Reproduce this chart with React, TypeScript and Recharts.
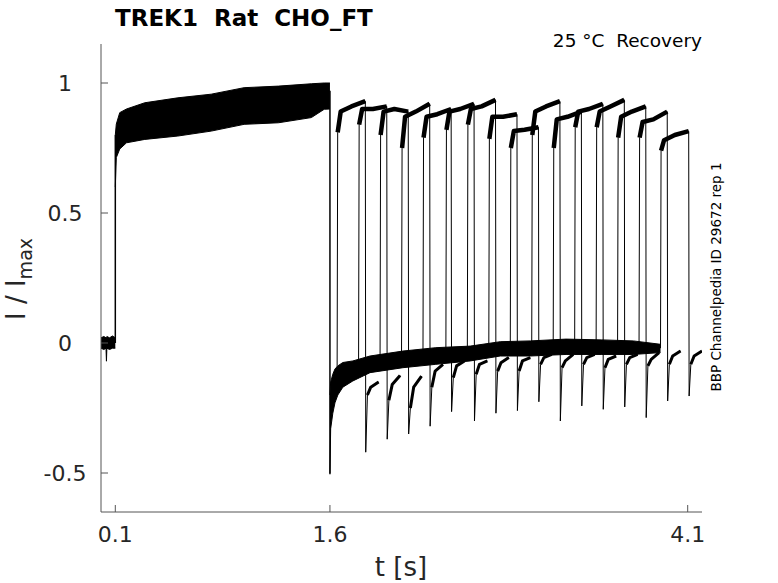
import { ComposedChart, Line, Area, XAxis, YAxis } from "recharts";

// recovery protocol: 16 sweeps, second pulse at increasing intervals
const pulseStart = [1.65, 1.8, 1.95, 2.1, 2.25, 2.41, 2.56, 2.71, 2.86, 3.01, 3.16, 3.31, 3.46, 3.61, 3.76, 3.91];
const pulseEnd = [1.85, 2.0, 2.15, 2.3, 2.45, 2.61, 2.76, 2.91, 3.06, 3.21, 3.36, 3.51, 3.66, 3.81, 3.96, 4.11];
const baseBefore = [-0.14, -0.1, -0.09, -0.08, -0.07, -0.06, -0.05, -0.05, -0.04, -0.03, -0.03, -0.03, -0.02, -0.02, -0.02, -0.02];
const kneeLevel = [0.81, 0.84, 0.8, 0.75, 0.79, 0.82, 0.84, 0.785, 0.75, 0.8, 0.75, 0.83, 0.83, 0.79, 0.79, 0.74];
const earlyLevel = [0.89, 0.9, 0.89, 0.87, 0.87, 0.89, 0.9, 0.87, 0.815, 0.89, 0.86, 0.89, 0.89, 0.87, 0.85, 0.78];
const midLevel = [0.91, 0.9, 0.9, 0.89, 0.88, 0.9, 0.91, 0.87, 0.82, 0.91, 0.87, 0.9, 0.91, 0.89, 0.86, 0.8];
const endLevel = [0.93, 0.91, 0.89, 0.92, 0.9, 0.92, 0.935, 0.88, 0.83, 0.93, 0.89, 0.92, 0.935, 0.91, 0.89, 0.815];
const spikeLevel = [-0.42, -0.37, -0.35, -0.32, -0.264, -0.3, -0.27, -0.26, -0.226, -0.3, -0.242, -0.255, -0.246, -0.287, -0.223, -0.204];
const tailA = [-0.2, -0.22, -0.25, -0.17, -0.133, -0.12, -0.108, -0.108, -0.082, -0.095, -0.082, -0.095, -0.082, -0.088, -0.082, -0.082];
const tailB = [-0.17, -0.16, -0.17, -0.108, -0.088, -0.082, -0.076, -0.069, -0.056, -0.069, -0.056, -0.063, -0.056, -0.063, -0.05, -0.05];
const tailC = [-0.15, -0.125, -0.127, -0.082, -0.069, -0.069, -0.056, -0.056, -0.044, -0.044, -0.044, -0.05, -0.044, -0.037, -0.031, -0.031];
const tailEnd = [1.94, 2.09, 2.24, 2.39, 2.54, 2.7, 2.85, 3.0, 3.15, 3.3, 3.45, 3.6, 3.75, 3.9, 4.05, 4.2];

// envelope of the overlapping sweeps before the second pulse
const baseT = [0, 0.02, 0.035, 0.038, 0.041, 0.06, 0.08, 0.1];
const baseLow = [-0.02, -0.025, -0.02, -0.07, -0.02, -0.025, -0.02, -0.02];
const baseHigh = [0.02, 0.025, 0.02, 0.02, 0.025, 0.02, 0.027, 0.02];

const firstT = [0.1, 0.107, 0.131, 0.178, 0.306, 0.537, 0.77, 1.0, 1.24, 1.47, 1.56, 1.6];
const firstLow = [0.6, 0.713, 0.746, 0.77, 0.783, 0.796, 0.815, 0.841, 0.847, 0.867, 0.899, 0.9];
const firstHigh = [0.8, 0.842, 0.886, 0.9, 0.924, 0.943, 0.957, 0.982, 0.988, 0.997, 1.0, 1.0];

const recT = [1.6, 1.605, 1.62, 1.635, 1.655, 1.69, 1.76, 1.88, 2.11, 2.34, 2.58, 2.79, 3.0, 3.25, 3.5, 3.72, 3.91];
const recLow = [-0.5, -0.33, -0.27, -0.23, -0.2, -0.17, -0.146, -0.114, -0.095, -0.082, -0.069, -0.05, -0.05, -0.044, -0.044, -0.044, -0.037];
const recHigh = [-0.2, -0.15, -0.12, -0.1, -0.088, -0.075, -0.069, -0.05, -0.031, -0.018, -0.012, 0.005, 0.008, 0.015, 0.012, 0.008, -0.005];

const stepT = [0.1, 1.6];
const stepFrom = [0, 0.97];
const stepTo = [0.8, -0.505];

const xTicks = [0.1, 1.6, 4.1];
const yTicks = [-0.5, 0, 0.5, 1];

const band = (ts: number[], lo: number[], hi: number[]) =>
  ts.map((t, i) => ({ t, range: [lo[i], hi[i]] }));

const baseData = band(baseT, baseLow, baseHigh);
const firstData = band(firstT, firstLow, firstHigh);
const recData = band(recT, recLow, recHigh);

const stepLines = stepT.map((t, i) => [
  { t, v: stepFrom[i] },
  { t, v: stepTo[i] },
]);

const sweeps = pulseStart.map((s, i) => {
  const e = pulseEnd[i];
  const plateau = [
    { t: s + 0.004, v: kneeLevel[i] },
    { t: s + 0.025, v: earlyLevel[i] },
    { t: s + 0.1, v: midLevel[i] },
    { t: e - 0.003, v: endLevel[i] },
  ];
  const tail = [
    { t: e + 0.012, v: tailA[i] },
    { t: e + 0.035, v: tailB[i] },
    { t: tailEnd[i], v: tailC[i] },
  ];
  const full = [{ t: s, v: baseBefore[i] }, ...plateau, { t: e, v: spikeLevel[i] }, ...tail];
  return { full, plateau, tail };
});

const TEXT = "#262626";
const AXIS = "#555555";
const FONT = "DejaVu Sans, sans-serif";

const fmt = (v: number) => String(v);

const XTick = (props: any) => (
  <text x={props.x} y={542} textAnchor="middle" fontSize={22} fill={TEXT} fontFamily={FONT}>
    {fmt(props.payload.value)}
  </text>
);

const YTick = (props: any) => (
  <text x={65} y={props.y} dy={8} textAnchor="middle" fontSize={22} fill={TEXT} fontFamily={FONT}>
    {fmt(props.payload.value)}
  </text>
);

export default function App() {
  return (
    <div style={{ position: "absolute", left: 0, top: 0, width: 778, height: 583, background: "#fff" }}>
      <ComposedChart width={778} height={583} margin={{ top: 44, right: 76, bottom: 41, left: 61 }}>
        <XAxis
          dataKey="t"
          type="number"
          domain={[0, 4.2]}
          ticks={xTicks}
          height={30}
          tickSize={-7}
          stroke={AXIS}
          tick={<XTick />}
          allowDataOverflow
        />
        <YAxis
          type="number"
          domain={[-0.65, 1.15]}
          ticks={yTicks}
          width={40}
          tickSize={-7}
          stroke={AXIS}
          tick={<YTick />}
          allowDataOverflow
        />
        <Area data={baseData} dataKey="range" type="linear" fill="#000" fillOpacity={1} stroke="#000" strokeWidth={1} isAnimationActive={false} />
        <Area data={firstData} dataKey="range" type="linear" fill="#000" fillOpacity={1} stroke="#000" strokeWidth={1} isAnimationActive={false} />
        <Area data={recData} dataKey="range" type="linear" fill="#000" fillOpacity={1} stroke="#000" strokeWidth={1} isAnimationActive={false} />
        {stepLines.map((d, i) => (
          <Line key={"step" + i} data={d} dataKey="v" type="linear" stroke="#000" strokeWidth={1.5} dot={false} isAnimationActive={false} />
        ))}
        {sweeps.map((sw, i) => (
          <Line key={"full" + i} data={sw.full} dataKey="v" type="linear" stroke="#000" strokeWidth={1} dot={false} isAnimationActive={false} />
        ))}
        {sweeps.map((sw, i) => (
          <Line key={"plat" + i} data={sw.plateau} dataKey="v" type="linear" stroke="#000" strokeWidth={4.5} strokeLinejoin="round" dot={false} isAnimationActive={false} />
        ))}
        {sweeps.map((sw, i) => (
          <Line key={"tail" + i} data={sw.tail} dataKey="v" type="linear" stroke="#000" strokeWidth={3} strokeLinejoin="round" dot={false} isAnimationActive={false} />
        ))}
        <text x={115} y={26} fontSize={23} fontWeight="bold" fill="#000" fontFamily={FONT}>
          TREK1{"\u00a0\u00a0"}Rat{"\u00a0\u00a0"}CHO_FT
        </text>
        <text x={702} y={47} textAnchor="end" fontSize={18.5} fill="#000" fontFamily={FONT}>
          25 °C{"\u00a0\u00a0"}Recovery
        </text>
        <text transform="rotate(-90)" x={-277} y={721} textAnchor="middle" fontSize={13.5} fill="#000" fontFamily={FONT}>
          BBP Channelpedia ID 29672 rep 1
        </text>
        <text transform="rotate(-90)" x={-320} y={25} fontSize={26} fill={TEXT} fontFamily={FONT}>
          I / I
          <tspan dy={7} fontSize={19}>max</tspan>
        </text>
        <text x={401} y={576} textAnchor="middle" fontSize={26} fill={TEXT} fontFamily={FONT}>
          t [s]
        </text>
      </ComposedChart>
    </div>
  );
}
